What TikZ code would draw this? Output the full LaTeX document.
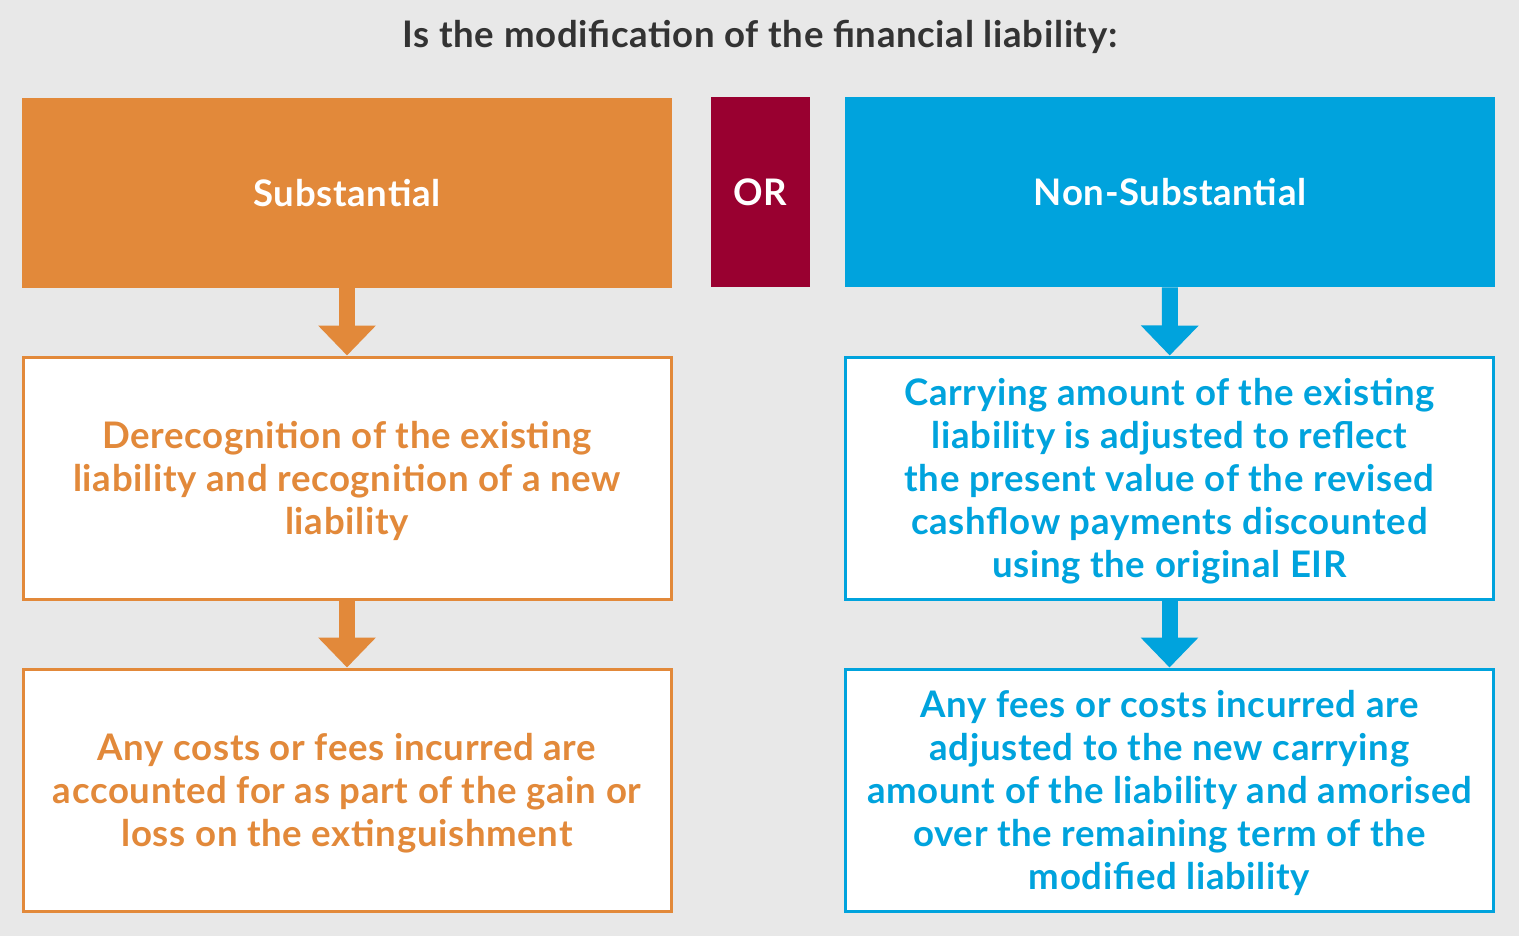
\documentclass[tikz,border=0pt]{standalone}
\usepackage{fontspec}
\setmainfont{Lato}[LetterSpace=1.8]
\usetikzlibrary{arrows.meta,positioning}
\definecolor{subor}{HTML}{E2893A}
\definecolor{nonbl}{HTML}{00A3DD}
\definecolor{orred}{HTML}{990030}
\definecolor{bggray}{HTML}{E8E8E8}
\definecolor{ttlgray}{HTML}{333333}

\begin{document}
\begin{tikzpicture}[
    x=0.5pt, y=-0.5pt,
    every node/.style={font=\fontsize{18.3}{21.5}\selectfont\bfseries, align=center, inner sep=0pt, text depth=0pt},
    head/.style={rectangle, minimum width=325pt, minimum height=95pt, text=white},
    orbox/.style={rectangle, fill=orred, minimum width=49.5pt, minimum height=95pt, text=white},
    result/.style={rectangle, draw, fill=white, line width=1.5pt, minimum width=324pt, minimum height=121pt},
    flow/.style={line width=8pt, -{Triangle[width=28pt, length=15pt]}}
]

% Background
\fill[bggray] (0,0) rectangle (1519,936);

% Question
\node[text=ttlgray] (question) at (760,34) {Is the modification of the financial liability:};

% Headings
\node[head, fill=subor] (subst) at (347,193) {Substantial};
\node[orbox] (orsign) at (760.5,192) {OR};
\node[head, fill=nonbl] (nonsubst) at (1170,192) {Non-Substantial};

% Substantial branch
\node[result, draw=subor, text=subor] (derecog) at (347,478)
    {Derecognition of the existing\\liability and recognition of a new\\liability};
\node[result, draw=subor, text=subor] (gainloss) at (347,790)
    {Any costs or fees incurred are\\accounted for as part of the gain or\\loss on the extinguishment};

% Non-substantial branch
\node[result, draw=nonbl, text=nonbl] (carrying) at (1169.5,478)
    {Carrying amount of the existing\\liability is adjusted to reflect\\the present value of the revised\\cashflow payments discounted\\using the original EIR};
\node[result, draw=nonbl, text=nonbl] (amortise) at (1169.5,790)
    {Any fees or costs incurred are\\adjusted to the new carrying\\amount of the liability and amorised\\over the remaining term of the\\modified liability};

% Arrows
\draw[flow, subor] (subst) -- (derecog);
\draw[flow, subor] (derecog) -- (gainloss);
\draw[flow, nonbl] (nonsubst) -- (carrying);
\draw[flow, nonbl] (carrying) -- (amortise);

\end{tikzpicture}
\end{document}
